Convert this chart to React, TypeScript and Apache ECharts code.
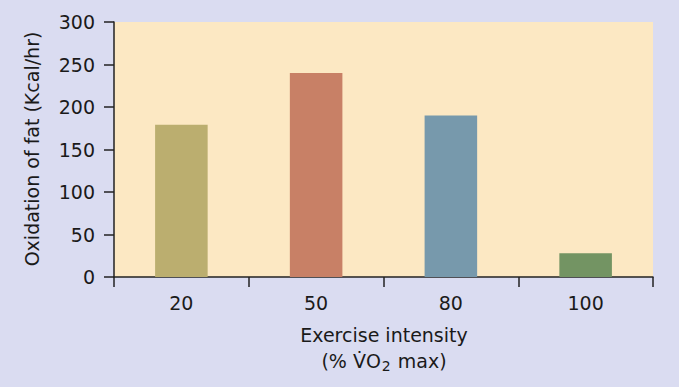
import React, { useEffect, useRef } from "react";
import * as echarts from "echarts";

const categories = ["20", "50", "80", "100"];
const fatOxidation = [179, 240, 190, 28];
const barColors = ["#BBAE6F", "#C88066", "#7799AC", "#739463"];
const yTicks = { min: 0, max: 300, interval: 50 };

export default function App() {
  const ref = useRef<HTMLDivElement>(null);
  useEffect(() => {
    if (!ref.current) return;
    const chart = echarts.init(ref.current, undefined, { renderer: "svg" });
    const font = "'DejaVu Sans', 'Liberation Sans', Arial, sans-serif";
    const ink = "#1a1a1a";
    chart.setOption({
      animation: false,
      backgroundColor: "#DADCF1",
      textStyle: { fontFamily: font },
      grid: {
        left: 114,
        top: 22,
        right: 26,
        bottom: 110,
        show: true,
        backgroundColor: "#FCE8C3",
        borderWidth: 0,
      },
      xAxis: {
        type: "category",
        data: categories,
        axisLine: { show: true, lineStyle: { color: "#222", width: 1.5 } },
        axisTick: { show: true, alignWithLabel: false, length: 10, lineStyle: { color: "#222", width: 1.5 } },
        axisLabel: { color: ink, fontSize: 19, margin: 16, fontFamily: font },
        splitLine: { show: false },
      },
      yAxis: {
        type: "value",
        min: yTicks.min,
        max: yTicks.max,
        interval: yTicks.interval,
        axisLine: { show: true, lineStyle: { color: "#222", width: 1.5 } },
        axisTick: { show: true, length: 10, lineStyle: { color: "#222", width: 1.5 } },
        axisLabel: { color: ink, fontSize: 19, margin: 19, fontFamily: font },
        splitLine: { show: false },
      },
      series: [
        {
          type: "bar",
          barWidth: "39%",
          data: fatOxidation.map((v, i) => ({ value: v, itemStyle: { color: barColors[i] } })),
        },
      ],
      graphic: [
        {
          type: "text",
          x: 32,
          y: 149,
          rotation: Math.PI / 2,
          style: {
            text: "Oxidation of fat (Kcal/hr)",
            fontSize: 19,
            fontFamily: font,
            fill: ink,
            align: "center",
            verticalAlign: "middle",
          },
        },
        {
          type: "text",
          x: 384,
          y: 335,
          style: {
            text: "Exercise intensity",
            fontSize: 19,
            fontFamily: font,
            fill: ink,
            align: "center",
            verticalAlign: "middle",
          },
        },
        {
          type: "text",
          x: 384,
          y: 361,
          style: {
            text: "{a|(% V\u0307O}{s|2}{a| max)}",
            fontFamily: font,
            fill: ink,
            align: "center",
            verticalAlign: "middle",
            rich: {
              a: { fontSize: 19, fontFamily: font, fill: ink, lineHeight: 24, verticalAlign: "middle" },
              s: { fontSize: 14, fontFamily: font, fill: ink, lineHeight: 14, verticalAlign: "bottom", padding: [14, 1, 0, 1] },
            },
          },
        },
      ],
    });
    return () => chart.dispose();
  }, []);
  return <div ref={ref} style={{ position: "absolute", left: 0, top: 0, width: 679, height: 387 }} />;
}
